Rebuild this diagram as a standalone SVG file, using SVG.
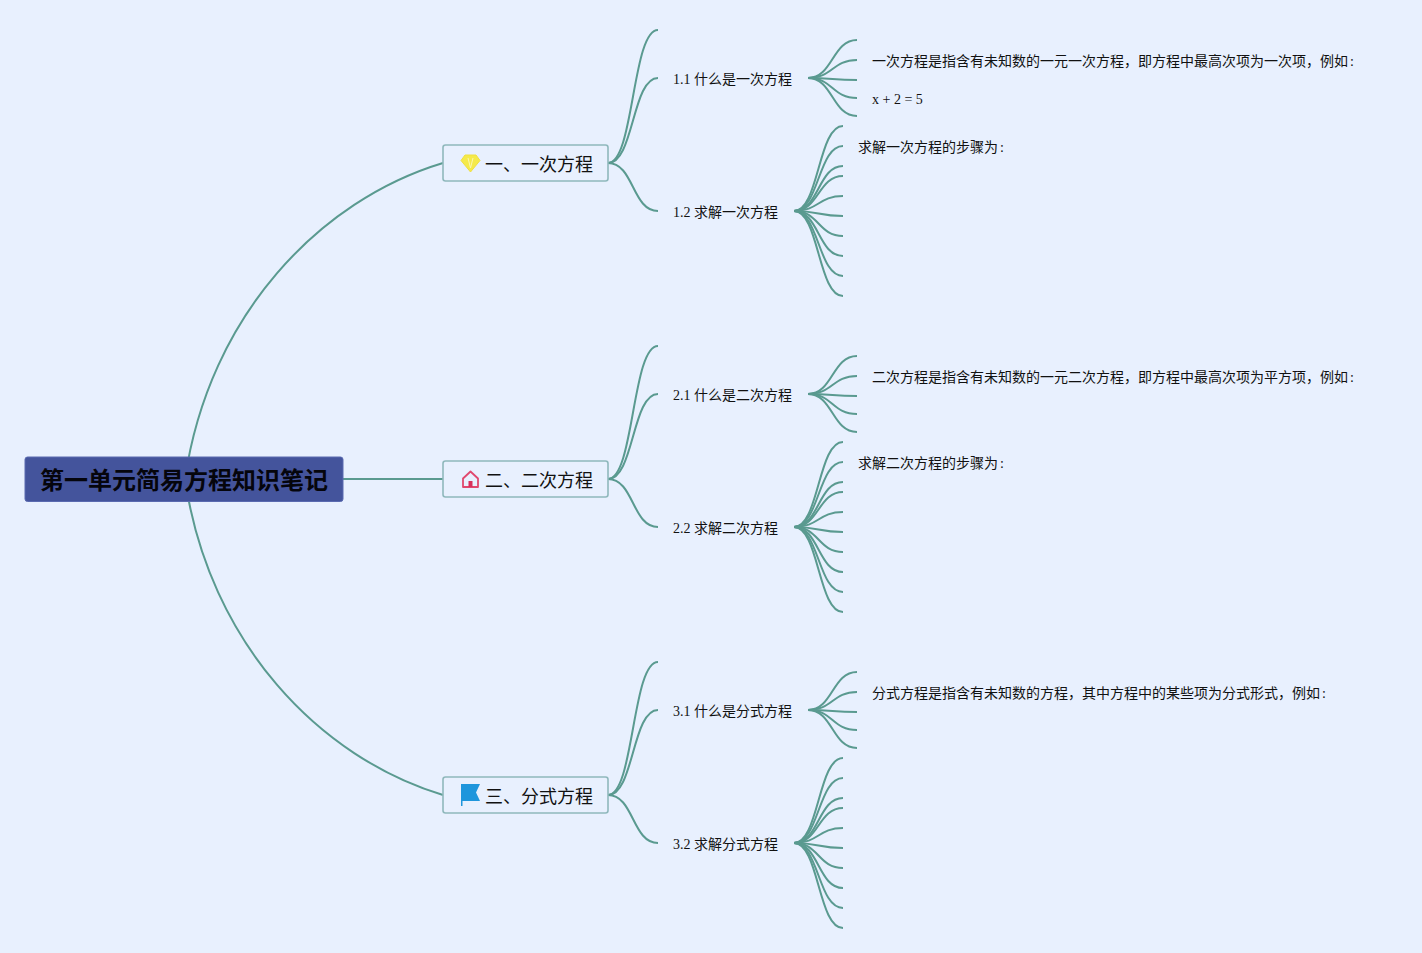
<svg xmlns="http://www.w3.org/2000/svg" xmlns:xlink="http://www.w3.org/1999/xlink" width="1422" height="953" viewBox="0 0 1422 953">
<style>
text{font-family:"Liberation Serif","Noto Sans CJK SC",serif;fill:#111}
.c{fill:none;stroke:#5a9a90;stroke-width:2;stroke-linecap:butt}
.box{fill:#e8f0fe;stroke:#8fb8bc;stroke-width:1.6}
.t1{font-size:18px}
.t2,.t3{font-size:14px}
.root{font-size:24px;font-weight:bold;font-family:"Liberation Sans","Noto Sans CJK SC",sans-serif;fill:#05050c}
</style>
<defs>
<g id="fan5" class="c">
<path d="M808 78C833 78 832 40 857 40"/><path d="M808 78C833 78 832 60 857 60"/><path d="M808 78C833 78 832 80 857 80"/><path d="M808 78C833 78 832 98 857 98"/><path d="M808 78C833 78 832 116 857 116"/>
</g>
<g id="fan10" class="c">
<path d="M794 211C819 211 818 126 843 126"/><path d="M794 211C819 211 818 146 843 146"/><path d="M794 211C819 211 818 166 843 166"/><path d="M794 211C819 211 818 176 843 176"/><path d="M794 211C819 211 818 196 843 196"/><path d="M794 211C819 211 818 216 843 216"/><path d="M794 211C819 211 818 236 843 236"/><path d="M794 211C819 211 818 256 843 256"/><path d="M794 211C819 211 818 276 843 276"/><path d="M794 211C819 211 818 296 843 296"/>
</g>
<g id="fan3" class="c">
<path d="M608 163C634 163 632 30 658 30"/><path d="M608 163C634 163 632 78 658 78"/><path d="M608 163C634 163 632 211 658 211"/>
</g>
</defs>
<rect width="1422" height="953" fill="#e8f0fe"/>
<g id="connectors">
<path class="c" d="M185 479C209 315 320 200 443 163"/>
<path class="c" d="M185 479C209 643 320 758 443 795"/>
<path class="c" d="M343 479H443"/>
<use href="#fan3"/><use href="#fan3" y="316"/><use href="#fan3" y="632"/>
<use href="#fan5"/><use href="#fan5" y="316"/><use href="#fan5" y="632"/>
<use href="#fan10"/><use href="#fan10" y="316"/><use href="#fan10" y="632"/>
</g>
<g id="root"><rect x="25" y="457" width="318" height="44.5" rx="2.5" fill="#44549c" stroke="#5a6ab0" stroke-width="1"/><text class="root" x="184" y="489" text-anchor="middle">第一单元简易方程知识笔记</text></g>
<g id="n1"><rect class="box" x="443" y="145" width="165" height="36" rx="2.5"/>
<path d="M465 155H476L480 160.500L470.500 172L461 160.500Z" fill="#f5ea4a" stroke="#f0e040" stroke-width="1"/><path d="M468 158L470.500 168L473 158" fill="none" stroke="#fbf7b0" stroke-width="1"/>
<text class="t1" x="485" y="171">一、一次方程</text></g>
<g id="n2"><rect class="box" x="443" y="461" width="165" height="36" rx="2.500"/>
<path d="M463 478.500L470.500 471.500L478 478.500V487H463Z" fill="none" stroke="#e0486e" stroke-width="1.800" stroke-linejoin="round"/><rect x="468.500" y="481" width="4" height="6" fill="#d8305c"/>
<text class="t1" x="485" y="487">二、二次方程</text></g>
<g id="n3"><rect class="box" x="443" y="777" width="165" height="36" rx="2.500"/>
<path d="M461 784H480L476 792.500L480 801H462.500V806H461Z" fill="#1e96dc"/>
<text class="t1" x="485" y="803">三、分式方程</text></g>
<g id="n11"><text class="t2" x="673" y="84">1.1 什么是一次方程</text></g>
<g id="n12"><text class="t2" x="673" y="217">1.2 求解一次方程</text></g>
<g id="n21"><text class="t2" x="673" y="400">2.1 什么是二次方程</text></g>
<g id="n22"><text class="t2" x="673" y="533">2.2 求解二次方程</text></g>
<g id="n31"><text class="t2" x="673" y="716">3.1 什么是分式方程</text></g>
<g id="n32"><text class="t2" x="673" y="849">3.2 求解分式方程</text></g>
<g id="l111"><text class="t3" x="872" y="66">一次方程是指含有未知数的一元一次方程，即方程中最高次项为一次项，例如<tspan dx="2">:</tspan></text></g>
<g id="l112"><text class="t3" x="872" y="104">x + 2 = 5</text></g>
<g id="l121"><text class="t3" x="858" y="152">求解一次方程的步骤为<tspan dx="2">:</tspan></text></g>
<g id="l211"><text class="t3" x="872" y="382">二次方程是指含有未知数的一元二次方程，即方程中最高次项为平方项，例如<tspan dx="2">:</tspan></text></g>
<g id="l221"><text class="t3" x="858" y="468">求解二次方程的步骤为<tspan dx="2">:</tspan></text></g>
<g id="l311"><text class="t3" x="872" y="698">分式方程是指含有未知数的方程，其中方程中的某些项为分式形式，例如<tspan dx="2">:</tspan></text></g>
</svg>
